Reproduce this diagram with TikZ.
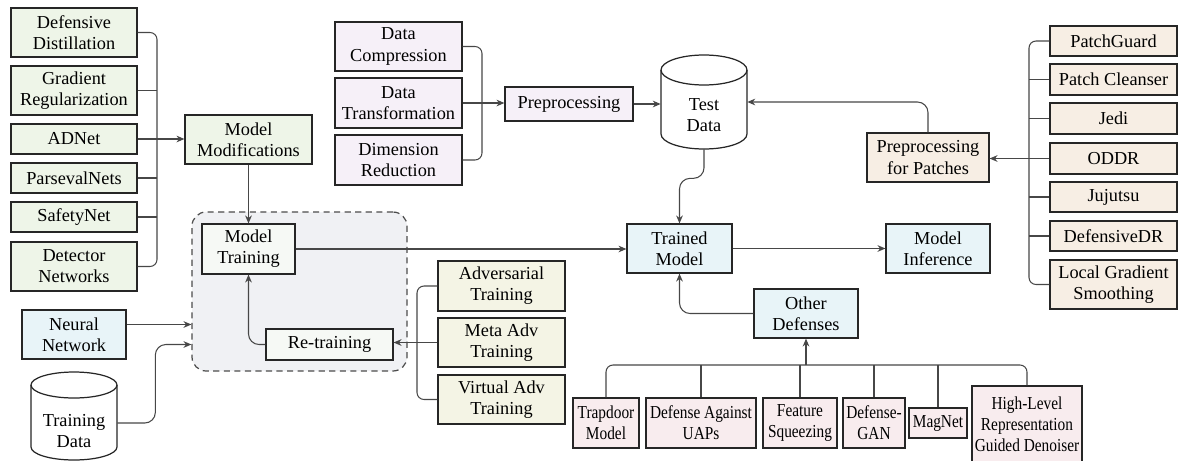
\documentclass[tikz,border=0pt]{standalone}
\usepackage{fontspec}
\setmainfont{Liberation Serif}
\newfontfamily\seriffont[FakeStretch=1.001]{Liberation Serif}
\newfontfamily\narrowfont[FakeStretch=0.84]{Liberation Serif}
\usetikzlibrary{positioning}
\usetikzlibrary{arrows.meta}

\definecolor{grn}{HTML}{EEF5E8}
\definecolor{blu}{HTML}{E8F4F8}
\definecolor{lav}{HTML}{F6F0F8}
\definecolor{tan}{HTML}{F7EEE4}
\definecolor{olv}{HTML}{F4F4E5}
\definecolor{pnk}{HTML}{F8ECEE}
\definecolor{wht}{HTML}{F6F9F5}
\definecolor{contfill}{HTML}{F0F1F4}

\begin{document}
\begin{tikzpicture}[x=0.02cm, y=-0.02cm,
    font=\fontsize{10.4}{12}\seriffont,
    >={Stealth[length=4.5pt,width=3.8pt]},
    blk/.style={draw=black!85, line width=0.7pt, align=center, inner sep=0pt},
    narrow/.style={font=\fontsize{10.4}{12}\narrowfont},
    conn/.style={draw=black!72, line width=0.6pt},
    arr/.style={conn, ->},
    brk/.style={conn, rounded corners=4pt}]
    \newcommand\Blk[7]{% name, style, x1, y1, x2, y2, text
        \node[blk, #2, minimum width={(#5-#3)*0.02cm}, minimum height={(#6-#4)*0.02cm}]
            (#1) at ({(#3+#5)/2}, {(#4+#6)/2}) {#7};
    }
    \useasboundingbox (0,0) rectangle (1203,460);

    % Training box
    \Blk{cont}{dash pattern=on 3.5pt off 2.5pt, rounded corners=8pt, fill=contfill, draw=black!70}{192}{212}{407}{371}{}
    \Blk{mtrain}{fill=wht}{202}{224}{295}{274}{Model\\Training}
    \Blk{retr}{fill=wht}{266}{329}{393}{360}{Re-training}
    \draw[arr, rounded corners=6pt] (retr.west) -| (mtrain.south);

    % Model modifications
    \Blk{dd}{fill=grn}{11}{8}{137}{57}{Defensive\\Distillation}
    \Blk{gr}{fill=grn}{11}{66}{137}{115}{Gradient\\Regularization}
    \Blk{adnet}{fill=grn}{11}{124}{137}{154}{ADNet}
    \Blk{pars}{fill=grn}{11}{163}{137}{193}{ParsevalNets}
    \Blk{safe}{fill=grn}{11}{202}{137}{232}{SafetyNet}
    \Blk{det}{fill=grn}{11}{242}{137}{291}{Detector\\Networks}
    \Blk{mmod}{fill=grn}{185}{115}{312}{164}{Model\\Modifications}
    \coordinate (lbar) at (157,0);
    \draw[brk] (dd.east) -| (lbar |- det.east) -- (det.east);
    \foreach \n in {gr,pars,safe} {
        \draw[conn] (\n.east) -- (\n.east -| lbar);
    }
    \draw[arr] (adnet.east) -- (adnet.east -| mmod.west);
    \draw[arr] (mmod.south) -- (mmod.south |- mtrain.north);

    % Inputs
    \Blk{nn}{fill=blu}{22}{310}{126}{359}{Neural\\Network}
    \coordinate (nnout) at ([yshift=0.2cm]nn.east);
    \draw[arr] (nnout) -- (nnout -| cont.west);
    \node[minimum width=1.72cm, minimum height=1.2cm] (train) at (74,431) {};
    \draw[blk, fill=white] (31,385) -- (31,447) arc[start angle=180, end angle=360, x radius=0.86cm, y radius=0.26cm] -- (117,385);
    \draw[blk] (74,385) ellipse[x radius=0.86cm, y radius=0.26cm];
    \node[align=center] (traintxt) at (74,431) {Training\\Data};
    \coordinate (tdout) at ([yshift=0.16cm]train.east);
    \draw[arr, rounded corners=6pt] (tdout) -- ++(38,0) |- (retr.west -| cont.west);

    % Preprocessing
    \Blk{dcomp}{fill=lav}{335}{22}{462}{71}{Data\\Compression}
    \Blk{dtrans}{fill=lav}{335}{78}{462}{128}{Data\\Transformation}
    \Blk{dred}{fill=lav}{335}{135}{462}{185}{Dimension\\Reduction}
    \Blk{prep}{fill=lav}{505}{87}{633}{121}{Preprocessing}
    \coordinate (pbar) at (482,0);
    \draw[brk] (dcomp.east) -| (pbar |- dred.east) -- (dred.east);
    \draw[arr] (dtrans.east) -- (dtrans.east -| prep.west);

    % Test data
    \node[minimum width=1.72cm, minimum height=1.88cm] (test) at (704,102) {};
    \draw[blk, fill=white] (661,70) -- (661,134) arc[start angle=180, end angle=360, x radius=0.86cm, y radius=0.3cm] -- (747,70);
    \draw[blk] (704,70) ellipse[x radius=0.86cm, y radius=0.3cm];
    \node[align=center] (testtxt) at (704,115) {Test\\Data};
    \draw[arr] (prep.east) -- (prep.east -| test.west);

    % Patches
    \Blk{pg}{fill=tan}{1050}{26}{1177}{56}{PatchGuard}
    \Blk{pc}{fill=tan}{1050}{64}{1177}{95}{Patch Cleanser}
    \Blk{jedi}{fill=tan}{1050}{103}{1177}{134}{Jedi}
    \Blk{oddr}{fill=tan}{1050}{143}{1177}{174}{ODDR}
    \Blk{juj}{fill=tan}{1050}{182}{1177}{212}{Jujutsu}
    \Blk{ddr}{fill=tan}{1050}{221}{1177}{251}{DefensiveDR}
    \Blk{lgs}{fill=tan}{1050}{260}{1177}{309}{Local Gradient\\Smoothing}
    \Blk{pfp}{fill=tan}{867}{133}{989}{182}{Preprocessing\\for Patches}
    \coordinate (rbar) at (1029,0);
    \draw[brk] (pg.west) -| (rbar |- lgs.west) -- (lgs.west);
    \foreach \n in {pc,jedi,juj,ddr} {
        \draw[conn] (\n.west) -- (\n.west -| rbar);
    }
    \draw[arr] (oddr.west) -- (oddr.west -| pfp.east);
    \draw[arr, rounded corners=6pt] (pfp.north) |- (test.east);

    % Trained model
    \Blk{tmodel}{fill=blu}{627}{224}{732}{273}{Trained\\Model}
    \Blk{minf}{fill=blu}{886}{224}{990}{273}{Model\\Inference}
    \Blk{odef}{fill=blu}{754}{289}{858}{338}{Other\\Defenses}
    \draw[arr] (mtrain.east) -- (mtrain.east -| tmodel.west);
    \draw[arr] (tmodel.east) -- (minf.west);
    \draw[arr, rounded corners=6pt] (test.south) -- ++(0,29) -| (tmodel.north);
    \draw[arr, rounded corners=6pt] (odef.west) -| (tmodel.south);

    % Adversarial training
    \Blk{adv}{fill=olv}{438}{261}{565}{311}{Adversarial\\Training}
    \Blk{meta}{fill=olv}{438}{318}{565}{367}{Meta Adv\\Training}
    \Blk{virt}{fill=olv}{438}{375}{565}{424}{Virtual Adv\\Training}
    \coordinate (abar) at (417,0);
    \draw[brk] (adv.west) -| (abar |- virt.west) -- (virt.west);
    \draw[arr] (meta.west) -- (meta.west -| retr.east);

    % Other defenses
    \Blk{trap}{fill=pnk, narrow}{573}{398}{639}{448}{Trapdoor\\Model}
    \Blk{uap}{fill=pnk, narrow}{646}{398}{756}{448}{Defense Against\\UAPs}
    \Blk{feat}{fill=pnk, narrow}{763}{398}{837}{448}{Feature\\Squeezing}
    \Blk{dgan}{fill=pnk, narrow}{843}{398}{905}{448}{Defense-\\GAN}
    \Blk{mag}{fill=pnk, narrow}{909}{408}{967}{438}{MagNet}
    \Blk{hl}{fill=pnk, narrow}{972}{386}{1082}{462}{High-Level\\Representation\\Guided Denoiser}
    \coordinate (bbar) at (0,365);
    \draw[brk] (trap.north) |- (bbar -| hl.north) -- (hl.north);
    \foreach \n in {uap,feat,dgan,mag} {
        \draw[conn] (\n.north) -- (\n.north |- bbar);
    }
    \draw[arr] (bbar -| odef.south) -- (odef.south);
\end{tikzpicture}
\end{document}
